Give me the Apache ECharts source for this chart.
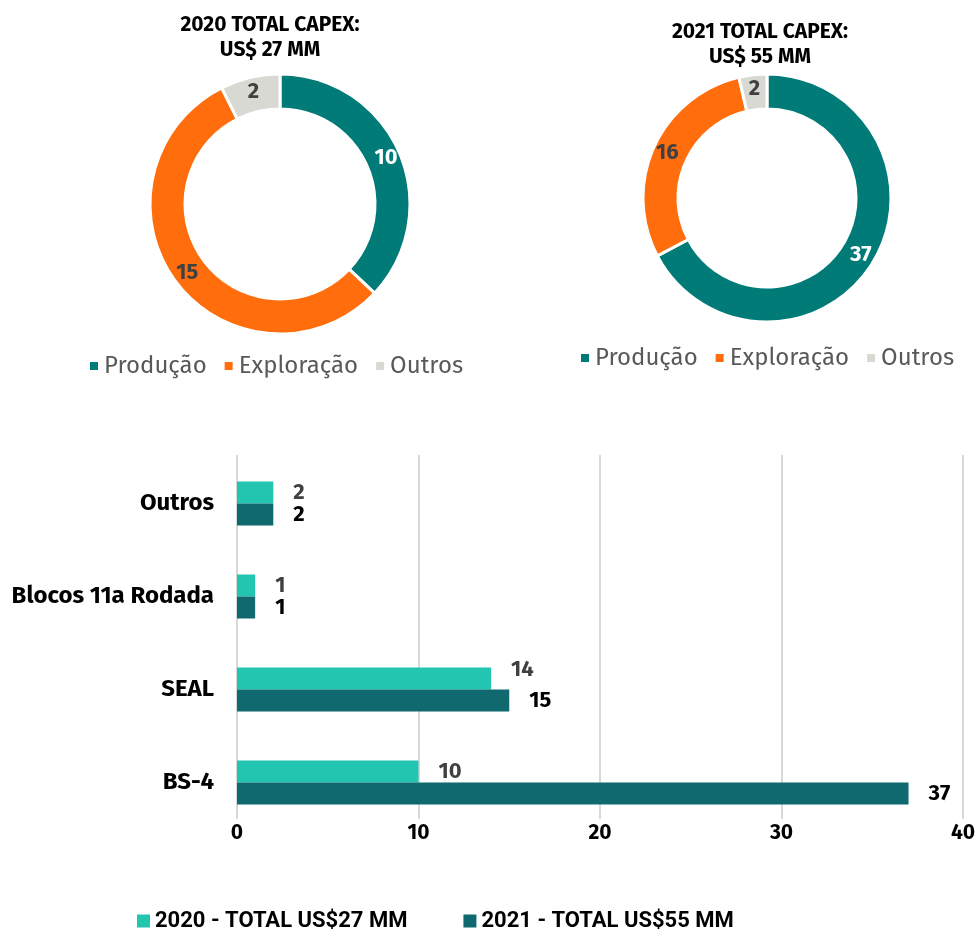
<!DOCTYPE html>
<html>
<head>
<meta charset="utf-8">
<script src="https://cdn.jsdelivr.net/npm/echarts@6/dist/echarts.min.js"></script>
<style>html,body{margin:0;padding:0;background:#fff}#c{width:979px;height:929px}</style>
</head>
<body>
<div id="c"></div>
<script>
const pieNames = ['Produção', 'Exploração', 'Outros'];
const pie2020 = [10, 15, 2];
const pie2021 = [37, 16, 2];
const pieColors = ['#007B78', '#FF6D0D', '#D9D9D4'];

const barCategories = ['BS-4', 'SEAL', 'Blocos 11a Rodada', 'Outros'];
const bar2020 = [10, 14, 1, 2];
const bar2021 = [37, 15, 1, 2];
const barNames = ['2020 - TOTAL US$27 MM', '2021 - TOTAL US$55 MM'];
const xTicks = [0, 10, 20, 30, 40];

const FONT = '"Fira Sans","Noto Sans",sans-serif';

function pieData(vals) {
  return vals.map((v, i) => ({
    name: pieNames[i], value: v,
    itemStyle: { color: pieColors[i] },
    label: { color: i === 0 ? '#ffffff' : '#404040' }
  }));
}

// 2020 label for SEAL sits slightly above bar centre in the reference
const bar2020Data = bar2020.map((v, i) => i === 1 ? { value: v, label: { offset: [0, -9] } } : v);

const chart = echarts.init(document.getElementById('c'), null, { renderer: 'canvas' });
chart.setOption({
  animation: false,
  textStyle: { fontFamily: FONT },
  title: [
    { text: '2020 TOTAL CAPEX:\nUS$ 27 MM', left: 265, top: 8, textAlign: 'center',
      textStyle: { fontFamily: FONT, fontSize: 21, fontWeight: 'bold', color: '#000', lineHeight: 25 } },
    { text: '2021 TOTAL CAPEX:\nUS$ 55 MM', left: 755, top: 15, textAlign: 'center',
      textStyle: { fontFamily: FONT, fontSize: 21, fontWeight: 'bold', color: '#000', lineHeight: 25 } }
  ],
  legend: [
    { data: pieNames, left: 83, top: 349, icon: 'rect', itemWidth: 10, itemHeight: 10, itemGap: 16,
      textStyle: { fontFamily: FONT, fontSize: 24, color: '#595959' } },
    { data: pieNames, left: 574, top: 341, icon: 'rect', itemWidth: 10, itemHeight: 10, itemGap: 16,
      textStyle: { fontFamily: FONT, fontSize: 24, color: '#595959' } },
    { data: barNames, left: 132, top: 905, icon: 'rect', itemWidth: 13, itemHeight: 13, itemGap: 56,
      textStyle: { fontFamily: '"Liberation Sans Narrow","Roboto",sans-serif', fontSize: 22, fontWeight: 'bold', color: '#000' } }
  ],
  grid: [
    { left: 237, right: 16, top: 457, height: 372, containLabel: false },
    { left: 237, right: 16, top: 455, height: 364, containLabel: false }
  ],
  xAxis: [
    { type: 'value', gridIndex: 0, min: 0, max: 40, interval: 10,
      axisLine: { show: false }, axisTick: { show: false }, splitLine: { show: false },
      axisLabel: { fontFamily: FONT, fontSize: 21, fontWeight: 'bold', color: '#000', margin: -6,
        formatter: v => xTicks.includes(v) ? String(v) : '' } },
    { type: 'value', gridIndex: 1, min: 0, max: 40, interval: 10,
      axisLine: { show: false }, axisTick: { show: false }, axisLabel: { show: false },
      splitLine: { show: true, lineStyle: { color: '#D9D9D9', width: 2 } } }
  ],
  yAxis: [
    { type: 'category', gridIndex: 0, data: barCategories, z: 5,
      axisLine: { show: false }, axisTick: { show: false },
      axisLabel: { fontFamily: FONT, fontSize: 24, fontWeight: 'bold', color: '#000', margin: 23 } },
    { type: 'value', gridIndex: 1, min: 0, max: 1, show: false }
  ],
  series: [
    { type: 'pie', name: '2020', center: [280, 204], radius: [95, 130], startAngle: 90, clockwise: true,
      data: pieData(pie2020),
      itemStyle: { borderColor: '#fff', borderWidth: 3 },
      label: { show: true, position: 'inside', formatter: '{c}', fontFamily: FONT, fontSize: 22, fontWeight: 'bold' },
      labelLine: { show: false }, emphasis: { disabled: true } },
    { type: 'pie', name: '2021', center: [767, 198], radius: [89, 124], startAngle: 90, clockwise: true,
      data: pieData(pie2021),
      itemStyle: { borderColor: '#fff', borderWidth: 3 },
      label: { show: true, position: 'inside', formatter: '{c}', fontFamily: FONT, fontSize: 22, fontWeight: 'bold' },
      labelLine: { show: false }, emphasis: { disabled: true } },
    { type: 'bar', name: barNames[0], xAxisIndex: 0, yAxisIndex: 0, data: bar2020Data, barWidth: 22, barGap: '0%', z: 3,
      itemStyle: { color: '#21C5B0' },
      label: { show: true, position: 'right', distance: 20, fontFamily: FONT, fontSize: 22, fontWeight: 'bold', color: '#404040' } },
    { type: 'bar', name: barNames[1], xAxisIndex: 0, yAxisIndex: 0, data: bar2021, barWidth: 22, barGap: '0%', z: 3,
      itemStyle: { color: '#0F696E' },
      label: { show: true, position: 'right', distance: 20, fontFamily: FONT, fontSize: 22, fontWeight: 'bold', color: '#000' } }
  ]
});
</script>
</body>
</html>
